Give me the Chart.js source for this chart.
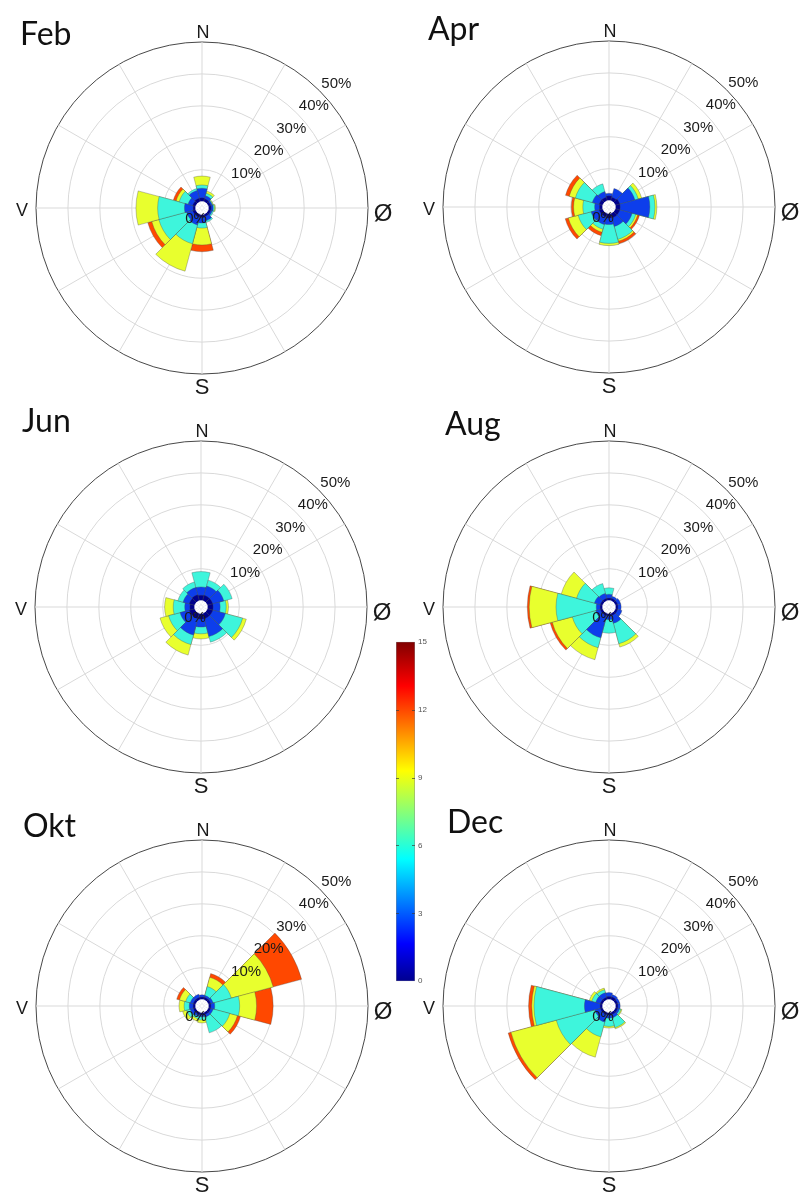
<!DOCTYPE html>
<html>
<head>
<meta charset="utf-8">
<script src="https://cdn.jsdelivr.net/npm/chart.js@4.4.1/dist/chart.umd.min.js"></script>
<style>
  html, body { margin: 0; padding: 0; background: #fff; }
  #page { position: relative; width: 801px; height: 1194px; overflow: hidden; }
  #page canvas { position: absolute; }
</style>
</head>
<body>
<div id="page"></div>
<script>
// 12 directions, 30 degrees apart, clockwise from north
const directions = ["N", "30", "60", "Ø", "120", "150", "S", "210", "240", "V", "300", "330"];
const speedBins = ["0-3", "3-6", "6-9", "9-12", "12-15"];
const ringTicks = [10, 20, 30, 40, 50];
const colorbarTicks = [0, 3, 6, 9, 12, 15];

// percent of time, one row per speed bin, one column per direction
const feb = [
  [1.2, 1.0, 0.8, 0.9, 0.8, 0.8, 1.0, 1.0, 1.0, 0.8, 1.0, 1.2],
  [3.0, 1.0, 0.5, 0.6, 0.5, 1.4, 1.7, 2.5, 2.0, 2.7, 1.5, 2.5],
  [1.0, 0.8, 0.2, 0.4, 0.4, 0.5, 1.6, 6.1, 9.0, 8.4, 2.9, 0.6],
  [2.8, 0.7, 0.2, 0.3, 0.0, 0.0, 5.3, 8.9, 2.3, 6.8, 1.0, 0.0],
  [0.0, 0.0, 0.0, 0.0, 0.0, 0.0, 2.1, 0.0, 1.3, 0.0, 0.9, 0.0]
];
const apr = [
  [1.5, 1.2, 1.5, 1.5, 1.5, 1.5, 1.5, 1.2, 1.2, 1.0, 1.2, 1.2],
  [0.8, 2.8, 4.9, 9.3, 4.0, 2.8, 2.0, 2.5, 2.6, 1.5, 2.2, 1.8],
  [0.0, 0.0, 1.1, 1.6, 1.2, 4.2, 5.9, 1.5, 4.2, 3.7, 5.5, 2.5],
  [0.0, 0.0, 1.1, 0.6, 0.6, 0.6, 0.7, 1.0, 3.2, 2.9, 2.0, 0.0],
  [0.0, 0.0, 0.0, 0.0, 0.6, 0.8, 0.0, 1.1, 1.0, 0.7, 1.2, 0.0]
];
const jun = [
  [1.7, 1.8, 1.8, 1.8, 1.8, 1.8, 1.8, 1.8, 1.8, 1.5, 1.8, 2.0],
  [2.6, 3.0, 3.6, 2.2, 4.1, 5.8, 2.5, 5.3, 3.0, 1.6, 2.0, 2.3],
  [4.8, 1.9, 2.7, 1.9, 5.6, 1.8, 2.1, 3.1, 3.7, 3.6, 1.7, 1.8],
  [0.0, 0.0, 0.0, 0.7, 1.2, 0.0, 1.6, 3.4, 2.8, 2.7, 0.0, 0.0],
  [0.0, 0.0, 0.0, 0.0, 0.0, 0.0, 0.0, 0.0, 0.0, 0.0, 0.0, 0.0]
];
const aug = [
  [0.8, 0.8, 0.8, 0.8, 0.8, 0.8, 0.8, 0.8, 0.8, 0.8, 0.8, 0.8],
  [1.2, 0.7, 1.0, 1.0, 1.4, 2.5, 1.2, 7.2, 1.5, 1.2, 1.9, 1.6],
  [2.0, 0.0, 0.0, 0.0, 0.0, 6.6, 4.2, 3.2, 7.6, 12.6, 5.8, 3.2],
  [0.0, 0.0, 0.0, 0.0, 0.0, 1.1, 0.0, 3.9, 6.5, 8.4, 5.0, 0.0],
  [0.0, 0.0, 0.0, 0.0, 0.0, 0.0, 0.0, 0.0, 0.7, 0.6, 0.0, 0.0]
];
const okt = [
  [0.8, 0.8, 0.8, 0.8, 0.8, 0.8, 0.8, 0.8, 0.8, 0.8, 0.8, 0.8],
  [0.7, 0.6, 0.8, 1.2, 0.8, 0.8, 0.6, 0.6, 1.0, 1.2, 1.0, 1.0],
  [0.0, 2.9, 5.9, 7.8, 5.4, 5.1, 1.0, 0.8, 1.2, 1.6, 1.5, 0.0],
  [0.0, 3.0, 13.6, 5.3, 2.5, 0.0, 0.9, 0.8, 1.3, 1.6, 2.0, 0.0],
  [0.0, 1.2, 9.2, 5.2, 1.0, 0.0, 0.0, 0.0, 0.0, 0.0, 0.9, 0.0]
];
const dec = [
  [1.0, 1.0, 0.8, 0.8, 0.8, 0.8, 0.8, 0.8, 0.8, 0.8, 0.8, 0.8],
  [1.2, 0.7, 0.7, 0.7, 0.6, 1.0, 1.0, 2.4, 1.8, 4.9, 1.5, 1.5],
  [0.0, 0.0, 0.0, 0.0, 0.5, 3.2, 2.6, 4.8, 12.5, 15.8, 1.3, 1.0],
  [0.0, 0.0, 0.0, 0.0, 0.3, 0.4, 0.5, 6.6, 14.7, 0.7, 0.8, 0.5],
  [0.0, 0.0, 0.0, 0.0, 0.0, 0.0, 0.0, 0.0, 0.9, 1.0, 0.0, 0.0]
];

// jet-like colours for the speed bins
const binColors = ["#00008c", "#0d3eeb", "#3ef5dc", "#e8ff2e", "#ff4800"];

// where each rose sits on the page (centre) and where its title goes
const panels = [
  { title: "Feb", bins: feb, cx: 202, cy: 208, tx: -182, ty: -163 },
  { title: "Apr", bins: apr, cx: 609, cy: 207, tx: -181, ty: -167 },
  { title: "Jun", bins: jun, cx: 201, cy: 607, tx: -179, ty: -175 },
  { title: "Aug", bins: aug, cx: 609, cy: 607, tx: -164, ty: -172 },
  { title: "Okt", bins: okt, cx: 202, cy: 1006, tx: -179, ty: -169 },
  { title: "Dec", bins: dec, cx: 609, cy: 1006, tx: -162, ty: -173 }
];

const page = document.getElementById("page");
const SIZE = 400;

// spokes under the bars, texts on top
const roseDecor = {
  id: "roseDecor",
  beforeDatasetsDraw(chart) {
    const s = chart.scales.r;
    const ctx = chart.ctx;
    const R = s.getDistanceFromCenterForValue(50);
    ctx.save();
    ctx.strokeStyle = "#d9d9d9";
    ctx.lineWidth = 1;
    for (let i = 0; i < 12; i++) {
      const a = i * Math.PI / 6;
      ctx.beginPath();
      ctx.moveTo(s.xCenter, s.yCenter);
      ctx.lineTo(s.xCenter + R * Math.sin(a), s.yCenter - R * Math.cos(a));
      ctx.stroke();
    }
    ctx.restore();
  },
  afterDraw(chart, args, opts) {
    const s = chart.scales.r;
    const ctx = chart.ctx;
    const cx = s.xCenter, cy = s.yCenter;
    ctx.save();
    ctx.fillStyle = "#1a1a1a";
    ctx.textAlign = "center";
    ctx.textBaseline = "alphabetic";

    // compass letters
    ctx.font = "18px 'Liberation Sans'";
    ctx.fillText("N", cx + 1, cy - 170);
    ctx.fillText("V", cx - 180, cy + 8);
    ctx.font = "22px 'Liberation Sans'";
    ctx.fillText("S", cx, cy + 186);
    ctx.font = "24px 'Liberation Sans'";
    ctx.fillText("Ø", cx + 181, cy + 13);

    // ring labels
    ctx.font = "15px 'Liberation Sans'";
    ctx.textBaseline = "middle";
    ringTicks.forEach((v) => {
      const r = s.getDistanceFromCenterForValue(v) * Math.SQRT1_2;
      ctx.fillText(v + "%", cx + r + 17, cy - r - 7);
    });
    ctx.fillText("0%", cx - 6, cy + 11);

    // month
    ctx.textAlign = "left";
    ctx.textBaseline = "alphabetic";
    ctx.fillStyle = "#111";
    ctx.font = "32px Lato";
    ctx.fillText(opts.title, cx + opts.tx, cy + opts.ty);
    ctx.restore();
  }
};

function buildDatasets(bins) {
  let cum = directions.map(() => 0);
  const layers = bins.map((row, b) => {
    cum = cum.map((c, i) => c + row[i]);
    return {
      label: speedBins[b],
      data: cum.slice(),
      backgroundColor: (c) => (row[c.dataIndex] > 0 ? binColors[b] : "rgba(0,0,0,0)"),
      borderColor: "rgba(70,70,70,0.55)",
      borderWidth: (c) => (row[c.dataIndex] > 0 ? 0.6 : 0)
    };
  });
  // white hole in the middle, drawn last (index 0 is on top)
  const hole = {
    label: "hole",
    data: directions.map(() => 0),
    backgroundColor: "#fff",
    borderColor: "#fff",
    borderWidth: 0.5
  };
  return [hole, ...layers];
}

panels.forEach((p) => {
  const cv = document.createElement("canvas");
  cv.width = SIZE;
  cv.height = SIZE;
  cv.style.left = (p.cx - SIZE / 2) + "px";
  cv.style.top = (p.cy - SIZE / 2) + "px";
  page.appendChild(cv);

  new Chart(cv, {
    type: "polarArea",
    data: { labels: directions, datasets: buildDatasets(p.bins) },
    options: {
      responsive: false,
      animation: false,
      layout: { padding: 34 },
      plugins: {
        legend: { display: false },
        tooltip: { enabled: false },
        roseDecor: { title: p.title, tx: p.tx, ty: p.ty }
      },
      scales: {
        r: {
          min: -2,
          max: 50,
          startAngle: -15,
          ticks: { display: false, stepSize: 10 },
          angleLines: { display: false },
          pointLabels: { display: false },
          grid: {
            circular: true,
            color: (c) => (c.tick && c.tick.value === 50 ? "#333" : c.tick && c.tick.value > 0 ? "#d9d9d9" : "rgba(0,0,0,0)"),
            lineWidth: (c) => (c.tick && c.tick.value === 50 ? 0.9 : 1)
          }
        }
      }
    },
    plugins: [roseDecor]
  });
});

// colour bar
function jetGradient(chart) {
  const a = chart.chartArea;
  if (!a) return "#0ff";
  const g = chart.ctx.createLinearGradient(0, a.bottom, 0, a.top);
  g.addColorStop(0, "#00008f");
  g.addColorStop(0.11, "#0000ff");
  g.addColorStop(0.36, "#00ffff");
  g.addColorStop(0.62, "#ffff00");
  g.addColorStop(0.87, "#ff0000");
  g.addColorStop(1, "#800000");
  return g;
}

const cbarMarks = {
  id: "cbarMarks",
  afterDatasetsDraw(chart) {
    const y = chart.scales.y;
    const a = chart.chartArea;
    const ctx = chart.ctx;
    ctx.save();
    ctx.strokeStyle = "rgba(60,60,60,0.7)";
    ctx.lineWidth = 1;
    colorbarTicks.slice(1, -1).forEach((v) => {
      const py = Math.round(y.getPixelForValue(v)) + 0.5;
      ctx.beginPath();
      ctx.moveTo(a.right - 3, py); ctx.lineTo(a.right, py);
      ctx.moveTo(a.left, py); ctx.lineTo(a.left + 3, py);
      ctx.stroke();
    });
    ctx.restore();
  }
};

const cb = document.createElement("canvas");
cb.width = 40;
cb.height = 355;
cb.style.left = "396px";
cb.style.top = "634px";
page.appendChild(cb);

new Chart(cb, {
  type: "bar",
  data: {
    labels: [""],
    datasets: [{
      data: [[colorbarTicks[0], colorbarTicks[colorbarTicks.length - 1]]],
      backgroundColor: (c) => jetGradient(c.chart),
      borderColor: "#8a8a8a",
      borderWidth: 0.8,
      borderSkipped: false,
      barPercentage: 1,
      categoryPercentage: 1
    }]
  },
  options: {
    responsive: false,
    animation: false,
    layout: { padding: { top: 6, bottom: 6, left: 0, right: 0 } },
    plugins: { legend: { display: false }, tooltip: { enabled: false } },
    scales: {
      x: { display: false },
      y: {
        position: "right",
        min: 0,
        max: 15,
        afterBuildTicks: (s) => { s.ticks = colorbarTicks.map((v) => ({ value: v })); },
        afterFit: (s) => { s.width = 21; },
        grid: { display: false, drawTicks: false },
        border: { display: false },
        ticks: { font: { size: 8, family: "Liberation Sans" }, color: "#555", padding: 3 }
      }
    }
  },
  plugins: [cbarMarks]
});
</script>
</body>
</html>
